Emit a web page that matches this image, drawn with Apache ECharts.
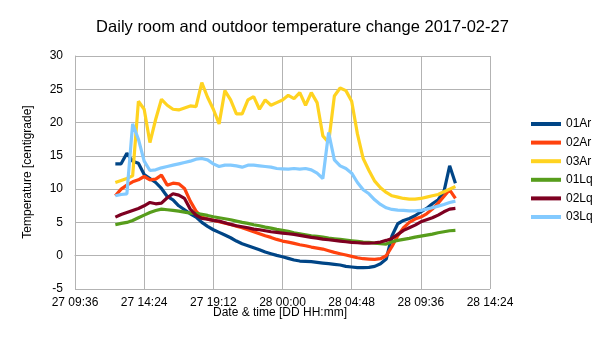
<!DOCTYPE html>
<html>
<head>
<meta charset="utf-8">
<script src="https://cdn.jsdelivr.net/npm/echarts@6/dist/echarts.min.js"></script>
<style>html,body{margin:0;padding:0;background:#fff}#c{width:605px;height:340px}</style>
</head>
<body>
<div id="c"></div>
<script>
const times = ["27 12:24","27 12:48","27 13:12","27 13:36","27 14:00","27 14:24","27 14:48","27 15:12","27 15:36","27 16:00",
"27 16:24","27 16:48","27 17:12","27 17:36","27 18:00","27 18:24","27 18:48","27 19:12","27 19:36","27 20:00",
"27 20:24","27 20:48","27 21:12","27 21:36","27 22:00","27 22:24","27 22:48","27 23:12","27 23:36","28 00:00",
"28 00:24","28 00:48","28 01:12","28 01:36","28 02:00","28 02:24","28 02:48","28 03:12","28 03:36","28 04:00",
"28 04:24","28 04:48","28 05:12","28 05:36","28 06:00","28 06:24","28 06:48","28 07:12","28 07:36","28 08:00",
"28 08:24","28 08:48","28 09:12","28 09:36","28 10:00","28 10:24","28 10:48","28 11:12","28 11:36","28 12:00"];

const s01Ar = [13.8,13.8,15.4,14.2,13.9,12.2,11.6,11.0,10.1,8.9,
8.4,7.5,6.9,6.3,5.8,5.0,4.4,3.9,3.5,3.1,
2.7,2.2,1.8,1.5,1.2,0.9,0.55,0.3,0.05,-0.15,
-0.4,-0.65,-0.8,-0.85,-0.9,-1.0,-1.1,-1.2,-1.3,-1.4,
-1.6,-1.7,-1.8,-1.8,-1.75,-1.6,-1.2,-0.5,3.0,4.8,
5.3,5.6,6.0,6.6,7.1,7.8,8.4,9.6,13.5,10.9];

const s02Ar = [9.0,10.0,10.6,11.1,11.4,11.9,11.4,11.5,12.1,10.6,
10.9,10.8,10.1,8.2,6.7,5.8,5.5,5.3,5.1,4.9,
4.7,4.45,4.2,3.9,3.6,3.3,3.0,2.75,2.45,2.2,
2.05,1.85,1.65,1.5,1.3,1.15,1.0,0.75,0.5,0.3,
0.1,-0.1,-0.3,-0.45,-0.5,-0.55,-0.45,0.0,1.4,3.0,
4.2,5.0,5.5,5.8,6.3,7.0,7.9,8.9,9.9,8.6];

const s03Ar = [11.0,11.3,11.6,12.0,23.2,22.0,17.0,20.5,23.5,22.6,
22.0,21.9,22.2,22.5,22.4,26.0,23.8,22.0,19.8,24.8,
23.4,21.3,21.3,23.4,23.9,22.0,23.4,22.6,23.0,23.4,
24.1,23.6,24.5,22.6,24.5,23.0,18.0,17.0,24.0,25.2,
24.8,23.2,18.3,14.6,12.8,11.2,10.2,9.5,9.0,8.8,
8.6,8.5,8.5,8.6,8.8,9.0,9.2,9.6,10.0,10.4];

const s01Lq = [4.65,4.85,5.0,5.3,5.7,6.1,6.5,6.8,7.0,6.9,
6.8,6.7,6.55,6.4,6.35,6.2,6.05,5.85,5.7,5.55,
5.4,5.2,5.0,4.85,4.65,4.5,4.3,4.15,3.95,3.8,
3.65,3.45,3.3,3.15,3.0,2.9,2.8,2.65,2.55,2.45,
2.35,2.25,2.15,2.05,2.0,1.9,1.8,1.75,2.1,2.3,
2.45,2.6,2.8,2.95,3.1,3.25,3.45,3.6,3.75,3.8];

const s02Lq = [5.8,6.2,6.5,6.8,7.1,7.5,8.0,7.8,7.9,8.7,
9.3,9.1,8.6,7.0,6.1,5.6,5.5,5.3,5.2,4.95,
4.7,4.5,4.35,4.2,4.0,3.9,3.75,3.6,3.5,3.4,
3.3,3.2,3.05,2.9,2.75,2.65,2.5,2.4,2.3,2.2,
2.1,2.0,1.95,1.9,1.9,1.95,2.05,2.3,2.6,3.2,
3.8,4.2,4.6,5.1,5.4,5.7,6.1,6.6,7.0,7.1];

const s03Lq = [9.0,9.2,9.3,19.8,17.5,14.2,12.8,12.9,13.2,13.4,
13.6,13.8,14.0,14.2,14.5,14.6,14.4,13.8,13.4,13.6,
13.6,13.5,13.3,13.6,13.6,13.5,13.4,13.3,13.1,13.05,
13.0,13.1,13.0,13.1,12.9,12.4,11.6,18.5,14.4,13.5,
13.1,12.4,11.0,9.9,9.3,8.4,7.7,7.2,6.95,6.85,
6.8,6.75,6.75,6.8,7.0,7.2,7.45,7.7,8.0,8.2];

const seriesNames = ["01Ar","02Ar","03Ar","01Lq","02Lq","03Lq"];
const seriesValues = [s01Ar,s02Ar,s03Ar,s01Lq,s02Lq,s03Lq];
const colors = ["#004586","#ff420e","#ffd320","#579d1c","#7e0021","#83caff"];

const yTicks = { min: -5, max: 30, interval: 5 };
const xTicks = { min: 576, max: 2304, interval: 288 }; // minutes from 27 00:00

function toMin(s) {
  const d = parseInt(s.slice(0,2),10);
  const h = parseInt(s.slice(3,5),10);
  const m = parseInt(s.slice(6,8),10);
  return (d - 27) * 1440 + h * 60 + m;
}
function fmt(v) {
  const d = 27 + Math.floor(v / 1440);
  const r = v - (d - 27) * 1440;
  const h = Math.floor(r / 60), m = Math.round(r % 60);
  return d + " " + String(h).padStart(2,"0") + ":" + String(m).padStart(2,"0");
}

const font = "'Liberation Sans', Arial, sans-serif";
const chart = echarts.init(document.getElementById('c'), null, {renderer:'canvas'});
chart.setOption({
  animation: false,
  backgroundColor: '#ffffff',
  title: {
    text: 'Daily room and outdoor temperature change 2017-02-27',
    left: 'center', top: 14,
    textStyle: { fontFamily: font, fontSize: 16.5, fontWeight: 'normal', color: '#000' }
  },
  legend: {
    orient: 'vertical', left: 531, top: 117, padding: 0,
    itemWidth: 30, itemHeight: 4, itemGap: 4.6, icon: 'rect',
    textStyle: { fontFamily: font, fontSize: 12, color: '#000', lineHeight: 14 },
    data: seriesNames
  },
  grid: { left: 75, right: 115, top: 56, bottom: 51, containLabel: false },
  xAxis: {
    type: 'value', min: xTicks.min, max: xTicks.max, interval: xTicks.interval,
    axisLine: { show: true, onZero: true, lineStyle: { color: '#b3b3b3' } },
    axisTick: { show: false },
    axisLabel: { formatter: fmt, fontFamily: font, fontSize: 12, color: '#000', margin: 8 },
    splitLine: { show: true, lineStyle: { color: '#b3b3b3', width: 1 } }
  },
  yAxis: {
    type: 'value', min: yTicks.min, max: yTicks.max, interval: yTicks.interval,
    axisLine: { show: true, lineStyle: { color: '#b3b3b3' } },
    axisTick: { show: false },
    axisLabel: { fontFamily: font, fontSize: 12, color: '#000', margin: 12 },
    splitLine: { show: true, lineStyle: { color: '#b3b3b3', width: 1 } }
  },
  graphic: [
    { type: 'text', left: 213, top: 307, style: { text: 'Date & time [DD HH:mm]', font: '12px ' + font, fill: '#000' } },
    { type: 'text', x: 28, y: 172, rotation: Math.PI / 2,
      style: { text: 'Temperature [centigrade]', font: '12px ' + font, fill: '#000', align: 'center', verticalAlign: 'middle' } }
  ],
  series: seriesNames.map((n, i) => ({
    name: n, type: 'line', showSymbol: false, symbol: 'none',
    color: colors[i],
    lineStyle: { width: 3.2, color: colors[i] },
    data: times.map((t, j) => [toMin(t), seriesValues[i][j]])
  }))
});
</script>
</body>
</html>
